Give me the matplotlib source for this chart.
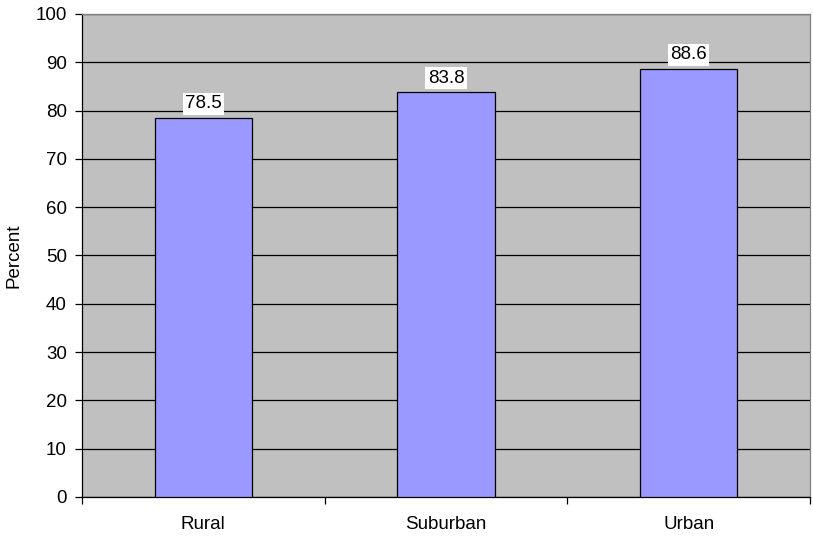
import matplotlib
matplotlib.use("Agg")
import matplotlib.pyplot as plt
import numpy as np

categories = ["Rural", "Suburban", "Urban"]
percent = [78.5, 83.8, 88.6]
yticks = list(range(0, 101, 10))

plt.rcParams["font.family"] = ["Liberation Sans", "DejaVu Sans"]
FS = 13.5

fig = plt.figure(figsize=(8.13, 5.36), dpi=100)
ax = fig.add_axes([0.1009, 0.0728, 0.8954, 0.9011])
ax.set_facecolor("#C0C0C0")

x = np.arange(len(categories))
bars = ax.bar(x, percent, width=0.4, color="#9999FF", edgecolor="black",
              linewidth=0.9, zorder=3)

for rect, val in zip(bars, percent):
    ax.annotate(f"{val:.1f}", (rect.get_x() + rect.get_width() / 2, val),
                xytext=(0, 4), textcoords="offset points",
                ha="center", va="bottom", fontsize=FS, zorder=4,
                bbox=dict(boxstyle="square,pad=0.12", fc="white", ec="none"))

ax.set_xlim(-0.5, len(categories) - 0.5)
ax.set_ylim(0, 100)
ax.set_yticks(yticks)
ax.yaxis.grid(True, color="black", linewidth=0.9, zorder=1)
ax.set_axisbelow(True)

# category labels in the middle, tick marks between categories
ax.set_xticks(x)
ax.set_xticklabels(categories, fontsize=FS)
ax.tick_params(axis="x", length=0, pad=14)
ax.set_xticks(np.arange(-0.5, len(categories)), minor=True)
ax.tick_params(axis="x", which="minor", length=5, width=0.9, direction="out")
ax.tick_params(axis="y", labelsize=FS, length=5, width=0.9, direction="out",
               pad=6)

ax.set_ylabel("Percent", fontsize=FS, labelpad=9)

for side in ["top", "right"]:
    ax.spines[side].set_color("#808080")
    ax.spines[side].set_linewidth(0.9)
for side in ["left", "bottom"]:
    ax.spines[side].set_color("black")
    ax.spines[side].set_linewidth(0.9)

fig.savefig("out.png", dpi=100)
